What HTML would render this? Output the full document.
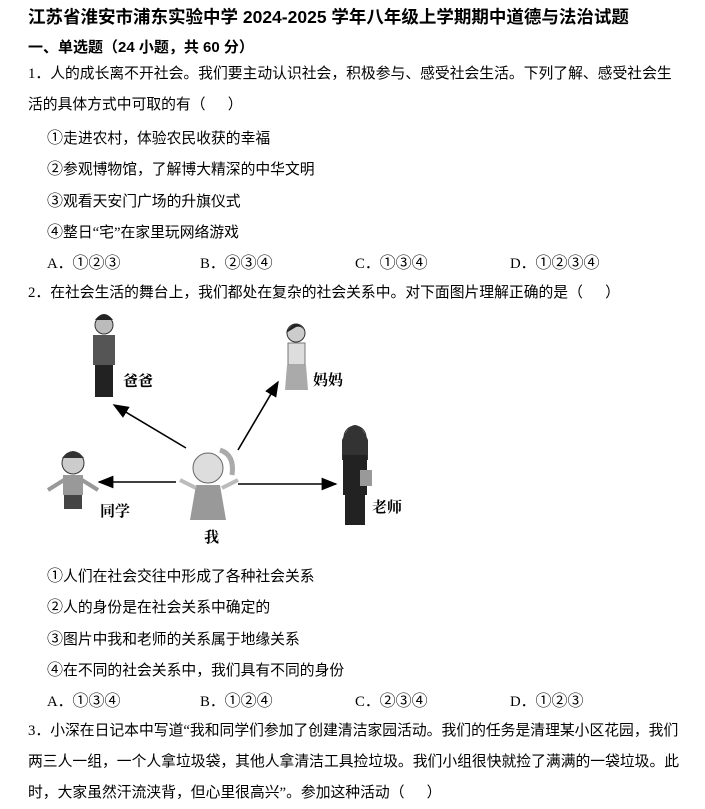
<!DOCTYPE html>
<html><head><meta charset="utf-8"><style>
body{margin:0;width:705px;height:809px;background:#fff;overflow:hidden;position:relative;font-family:"Liberation Serif","Noto Sans CJK SC",sans-serif;color:#000}
.l{position:absolute;white-space:nowrap;font-size:14.8px;line-height:20px}
.t{font-family:"Liberation Sans","Noto Sans CJK SC",sans-serif;font-weight:bold;font-size:17.5px}
.h{font-family:"Liberation Sans","Noto Sans CJK SC",sans-serif;font-weight:bold;font-size:15px}
.c{font-family:"Noto Sans CJK SC",sans-serif;font-size:16px}
.lab{position:absolute;font-size:15px;font-weight:bold;font-family:"Noto Serif CJK SC",serif}
</style></head><body>
<div class="l t" style="left:28px;top:7px">江苏省淮安市浦东实验中学 2024-2025 学年八年级上学期期中道德与法治试题</div>
<div class="l h" style="left:28px;top:38px">一、单选题（24 小题，共 60 分）</div>
<div class="l" style="left:28px;top:64px">1．人的成长离不开社会。我们要主动认识社会，积极参与、感受社会生活。下列了解、感受社会生</div>
<div class="l" style="left:28px;top:95px">活的具体方式中可取的有（&nbsp;&nbsp;&nbsp;&nbsp;&nbsp;&nbsp;）</div>
<div class="l" style="left:47px;top:126px"><span class="c">①</span>走进农村，体验农民收获的幸福</div>
<div class="l" style="left:47px;top:157px"><span class="c">②</span>参观博物馆，了解博大精深的中华文明</div>
<div class="l" style="left:47px;top:189px"><span class="c">③</span>观看天安门广场的升旗仪式</div>
<div class="l" style="left:47px;top:220px"><span class="c">④</span>整日“宅”在家里玩网络游戏</div>
<div class="l" style="left:47px;top:251px">A．<span class="c">①②③</span></div>
<div class="l" style="left:200px;top:251px">B．<span class="c">②③④</span></div>
<div class="l" style="left:355px;top:251px">C．<span class="c">①③④</span></div>
<div class="l" style="left:510px;top:251px">D．<span class="c">①②③④</span></div>
<div class="l" style="left:28px;top:283px">2．在社会生活的舞台上，我们都处在复杂的社会关系中。对下面图片理解正确的是（&nbsp;&nbsp;&nbsp;&nbsp;&nbsp;&nbsp;）</div>

<svg style="position:absolute;left:0;top:300px" width="420" height="250" viewBox="0 300 420 250">
<defs><marker id="a" markerWidth="10" markerHeight="8" refX="9" refY="4" orient="auto"><path d="M0,0L10,4L0,8z" fill="#000"/></marker></defs>
<g stroke="#000" stroke-width="1.6" marker-end="url(#a)">
<line x1="186" y1="448" x2="114" y2="405"/>
<line x1="238" y1="450" x2="278" y2="382"/>
<line x1="176" y1="482" x2="99" y2="482"/>
<line x1="238" y1="484" x2="336" y2="484"/>
</g>
<g><circle cx="104" cy="325" r="9" fill="#bbb" stroke="#333"/><path d="M95,320q9,-12 18,0z" fill="#222"/><rect x="93" y="335" width="22" height="30" fill="#555"/><rect x="95" y="365" width="18" height="32" fill="#222"/></g>
<g><circle cx="296" cy="333" r="9" fill="#ccc" stroke="#333"/><path d="M286,333q10,-18 20,0q-4,-8 -10,-6z" fill="#222"/><rect x="288" y="343" width="17" height="22" fill="#ddd" stroke="#777"/><path d="M287,365h19l2,25h-23z" fill="#aaa"/></g>
<g><circle cx="73" cy="463" r="11" fill="#ccc" stroke="#333"/><path d="M62,458q11,-14 22,0z" fill="#333"/><rect x="63" y="475" width="20" height="20" fill="#999"/><rect x="64" y="495" width="18" height="14" fill="#444"/><path d="M48,490l16,-10M98,490l-16,-10" stroke="#999" stroke-width="4"/></g>
<g><circle cx="355" cy="437" r="11" fill="#ccc" stroke="#333"/><path d="M342,440q13,-30 26,0v20h-26z" fill="#333"/><rect x="343" y="455" width="24" height="40" fill="#222"/><rect x="345" y="495" width="20" height="30" fill="#222"/><rect x="360" y="470" width="12" height="16" fill="#999"/></g>
<g><circle cx="208" cy="468" r="15" fill="#ddd" stroke="#666"/><path d="M220,450q15,5 12,25" stroke="#aaa" stroke-width="5" fill="none"/><path d="M196,485h24l6,35h-36z" fill="#999"/><path d="M180,480l16,8M238,480l-16,8" stroke="#bbb" stroke-width="4"/></g>
</svg>
<div class="lab" style="left:123px;top:370px">爸爸</div>
<div class="lab" style="left:313px;top:369px">妈妈</div>
<div class="lab" style="left:100px;top:500px">同学</div>
<div class="lab" style="left:372px;top:496px">老师</div>
<div class="lab" style="left:204px;top:526px">我</div>

<div class="l" style="left:47px;top:564px"><span class="c">①</span>人们在社会交往中形成了各种社会关系</div>
<div class="l" style="left:47px;top:595px"><span class="c">②</span>人的身份是在社会关系中确定的</div>
<div class="l" style="left:47px;top:627px"><span class="c">③</span>图片中我和老师的关系属于地缘关系</div>
<div class="l" style="left:47px;top:658px"><span class="c">④</span>在不同的社会关系中，我们具有不同的身份</div>
<div class="l" style="left:47px;top:689px">A．<span class="c">①③④</span></div>
<div class="l" style="left:200px;top:689px">B．<span class="c">①②④</span></div>
<div class="l" style="left:355px;top:689px">C．<span class="c">②③④</span></div>
<div class="l" style="left:510px;top:689px">D．<span class="c">①②③</span></div>
<div class="l" style="left:28px;top:721px">3．小深在日记本中写道“我和同学们参加了创建清洁家园活动。我们的任务是清理某小区花园，我们</div>
<div class="l" style="left:28px;top:752px">两三人一组，一个人拿垃圾袋，其他人拿清洁工具捡垃圾。我们小组很快就捡了满满的一袋垃圾。此</div>
<div class="l" style="left:28px;top:783px">时，大家虽然汗流浃背，但心里很高兴”。参加这种活动（&nbsp;&nbsp;&nbsp;&nbsp;&nbsp;&nbsp;）</div>
</body></html>
